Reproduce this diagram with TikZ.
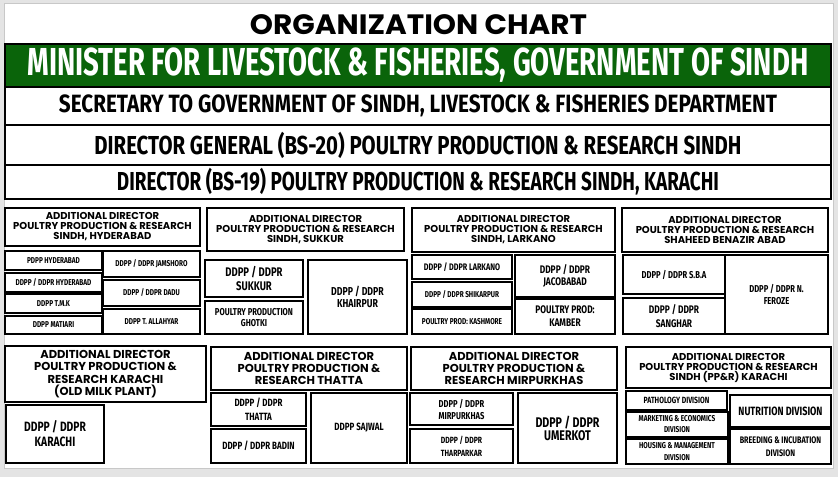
\documentclass[tikz,border=0pt]{standalone}
\usepackage{fontspec}
\usepackage{graphicx}
\newfontfamily\pop{Poppins}
\newfontfamily\cnd{Fira Sans}[FakeStretch=0.76]
\newcommand\cf[2]{\cnd\bfseries\fontsize{#1}{#2}\selectfont}
\newcommand\pf[2]{\pop\bfseries\fontsize{#1}{#2}\selectfont}
\newcommand\fitw[2]{\resizebox{#1}{\height}{#2}}
\newcommand\bx[7]{%
  \pgfmathsetmacro\bxw{#5-#3}\pgfmathsetmacro\bxh{#6-#4}%
  \pgfmathsetmacro\bxcx{(#3+#5)/2}\pgfmathsetmacro\bxcy{(#4+#6)/2}%
  \node[#1, minimum width=\bxw pt, minimum height=\bxh pt, anchor=center] (#2) at (\bxcx,\bxcy) {#7};}
\definecolor{mgreen}{HTML}{0A640A}
\definecolor{bgray}{HTML}{E4E4E4}
\definecolor{pline}{HTML}{C8C8C8}
\begin{document}
\begin{tikzpicture}[x=1pt,y=-1pt,
  rowbox/.style={draw=black, line width=2pt, inner sep=0pt},
  adbox/.style={draw=black, line width=2.6pt, inner sep=0pt, align=center},
  subbox/.style={draw=black, line width=1.1pt, inner sep=0pt, align=center},
  ad1/.style={adbox, font=\pf{10}{10}},
  ad2/.style={adbox, font=\pf{11.5}{12.4}}]
\fill[bgray] (0,0) rectangle (838,477);
\draw[pline, fill=white, line width=0.6pt] (4,3) rectangle (833,468);
\useasboundingbox (0,0) rectangle (838,477);
% title
\node (title) at (418.5,25) {\fitw{337pt}{\pf{28}{28}ORGANIZATION CHART}};
% top rows
\bx{rowbox, fill=mgreen, text=white}{min}{5}{44}{831}{87}{\fitw{781pt}{\cf{39}{39}MINISTER FOR LIVESTOCK \& FISHERIES, GOVERNMENT OF SINDH}}
\bx{rowbox}{sec}{5}{87}{831}{125}{\fitw{718pt}{\cf{25}{25}SECRETARY TO GOVERNMENT OF SINDH, LIVESTOCK \& FISHERIES DEPARTMENT}}
\bx{rowbox}{dg}{5}{125}{831}{165}{\fitw{647pt}{\cf{26}{26}DIRECTOR GENERAL (BS-20) POULTRY PRODUCTION \& RESEARCH SINDH}}
\bx{rowbox}{dir}{5}{165}{831}{199}{\fitw{602pt}{\cf{26}{26}DIRECTOR (BS-19) POULTRY PRODUCTION \& RESEARCH SINDH, KARACHI}}
% additional directors row 1
\bx{ad1}{adh}{5}{208}{200}{246}{ADDITIONAL DIRECTOR\\POULTRY PRODUCTION \& RESEARCH\\SINDH, HYDERABAD}
\bx{ad1}{ads}{207}{208}{404}{251}{ADDITIONAL DIRECTOR\\POULTRY PRODUCTION \& RESEARCH\\SINDH, SUKKUR}
\bx{ad1}{adl}{412}{208}{615}{252}{ADDITIONAL DIRECTOR\\POULTRY PRODUCTION \& RESEARCH\\SINDH, LARKANO}
\bx{ad1}{adb}{622}{208}{828}{252}{ADDITIONAL DIRECTOR\\POULTRY PRODUCTION \& RESEARCH\\SHAHEED BENAZIR ABAD}
% Hyderabad
\bx{subbox, font=\cf{8.5}{10}}{h1}{5}{251}{102}{270}{PDPP HYDERABAD}
\bx{subbox, font=\cf{8.5}{10}}{h2}{5}{273}{102}{292}{DDPP / DDPR HYDERABAD}
\bx{subbox, font=\cf{8.5}{10}}{h3}{5}{294}{102}{313}{DDPP T.M.K}
\bx{subbox, font=\cf{8.5}{10}}{h4}{5}{316}{102}{334}{DDPP MATIARI}
\bx{subbox, font=\cf{8.5}{10}}{h5}{103}{251}{200}{277}{DDPP / DDPR JAMSHORO}
\bx{subbox, font=\cf{8.5}{10}}{h6}{103}{280}{200}{306}{DDPP / DDPR DADU}
\bx{subbox, font=\cf{8.5}{10}}{h7}{103}{309}{200}{334}{DDPP T. ALLAHYAR}
% Sukkur
\bx{subbox, font=\cf{12.5}{14}}{s1}{205}{260}{303}{297}{DDPP / DDPR\\SUKKUR}
\bx{subbox, font=\cf{10}{11.5}}{s2}{205}{301}{303}{334}{POULTRY PRODUCTION\\GHOTKI}
\bx{subbox, font=\cf{11.5}{12.5}}{s3}{308}{260}{407}{334}{DDPP / DDPR\\KHAIRPUR}
% Larkano
\bx{subbox, font=\cf{9.5}{10}}{l1}{412}{255}{512}{279}{DDPP / DDPR LARKANO}
\bx{subbox, font=\cf{8.5}{10}}{l2}{412}{282}{512}{307}{DDPP / DDPR SHIKARPUR}
\bx{subbox, font=\cf{8.5}{10}}{l3}{412}{309}{512}{334}{POULTRY PROD: KASHMORE}
\bx{subbox, font=\cf{11}{11.5}}{l4}{515}{255}{615}{297}{DDPP / DDPR\\JACOBABAD}
\bx{subbox, font=\cf{11}{13}}{l5}{515}{299}{615}{334}{POULTRY PROD:\\KAMBER}
% SBA
\bx{subbox, font=\cf{10}{11}}{b1}{623}{255}{725}{294}{DDPP / DDPR S.B.A}
\bx{subbox, font=\cf{11}{14}}{b2}{623}{298}{725}{334}{DDPP / DDPR\\SANGHAR}
\bx{subbox, font=\cf{10}{12}}{b3}{725}{255}{828}{334}{DDPP / DDPR N.\\FEROZE}
% additional directors row 2
\bx{ad2}{adk}{5}{346}{206}{402}{ADDITIONAL DIRECTOR\\POULTRY PRODUCTION \&\\RESEARCH KARACHI\\(OLD MILK PLANT)}
\bx{ad2}{adt}{211}{347}{407}{390}{ADDITIONAL DIRECTOR\\POULTRY PRODUCTION \&\\RESEARCH THATTA}
\bx{ad2}{adm}{411}{347}{617}{390}{ADDITIONAL DIRECTOR\\POULTRY PRODUCTION \&\\RESEARCH MIRPURKHAS}
\bx{ad1}{adp}{626}{347}{831}{388}{ADDITIONAL DIRECTOR\\POULTRY PRODUCTION \& RESEARCH\\SINDH (PP\&R) KARACHI}
% Karachi
\bx{subbox, font=\cf{13.5}{15}}{k1}{6}{405}{104}{463}{DDPP / DDPR\\KARACHI}
% Thatta
\bx{subbox, font=\cf{10.5}{14}}{t1}{211}{393}{306}{426}{DDPP / DDPR\\THATTA}
\bx{subbox, font=\cf{10.5}{12}}{t2}{211}{429}{306}{463}{DDPP / DDPR BADIN}
\bx{subbox, font=\cf{10.5}{12}}{t3}{311}{393}{407}{463}{DDPP SAJWAL}
% Mirpurkhas
\bx{subbox, font=\cf{10}{12}}{m1}{410}{393}{513}{425}{DDPP / DDPR\\MIRPURKHAS}
\bx{subbox, font=\cf{9}{13}}{m2}{410}{429}{513}{463}{DDPP / DDPR\\THARPARKAR}
\bx{subbox, font=\cf{14}{13}}{m3}{518}{393}{617}{463}{DDPP / DDPR\\UMERKOT}
% PP&R Karachi
\bx{subbox, font=\cf{9}{10}}{p1}{626}{391}{727}{410}{PATHOLOGY DIVISION}
\bx{subbox, font=\cf{8.5}{11}}{p2}{626}{412}{728}{437}{MARKETING \& ECONOMICS\\DIVISION}
\bx{subbox, font=\cf{8.5}{12}}{p3}{626}{439}{728}{464}{HOUSING \& MANAGEMENT\\DIVISION}
\bx{subbox, font=\cf{12}{12}}{p4}{730}{395}{831}{427}{NUTRITION DIVISION}
\bx{subbox, font=\cf{9.5}{13}}{p5}{730}{429}{831}{464}{BREEDING \& INCUBATION\\DIVISION}
\end{tikzpicture}
\end{document}
